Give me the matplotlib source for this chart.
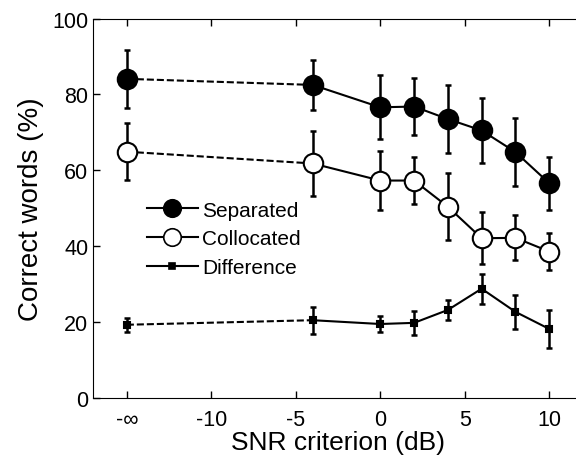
"""Correct words vs SNR criterion, separated / collocated / difference."""
import matplotlib
matplotlib.use("Agg")
import matplotlib.pyplot as plt
from matplotlib.lines import Line2D

plt.rcParams["font.family"] = ["Liberation Sans", "DejaVu Sans"]

# -15 stands in for the -inf condition
snr = [-15, -4, 0, 2, 4, 6, 8, 10]
separated = [84.1, 82.5, 76.6, 76.8, 73.5, 70.5, 64.8, 56.6]
separated_err = [7.7, 6.5, 8.4, 7.4, 8.9, 8.5, 9.0, 7.0]
collocated = [64.9, 61.8, 57.3, 57.3, 50.4, 42.1, 42.2, 38.6]
collocated_err = [7.5, 8.5, 7.8, 6.2, 8.8, 6.8, 5.9, 4.9]
difference = [19.3, 20.5, 19.5, 19.8, 23.2, 28.8, 22.7, 18.2]
difference_err = [1.8, 3.6, 2.2, 3.2, 2.6, 4.0, 4.5, 5.0]
xticks = [-15, -10, -5, 0, 5, 10]
xticklabels = ["-∞", "-10", "-5", "0", "5", "10"]

series = [
    ("Separated", separated, separated_err, dict(marker="o", ms=14, mfc="black")),
    ("Collocated", collocated, collocated_err, dict(marker="o", ms=14, mfc="white")),
    ("Difference", difference, difference_err, dict(marker="s", ms=4.5, mfc="black")),
]

fig = plt.figure(figsize=(5.76, 4.6), dpi=100)
ax = fig.add_axes([0.1615, 0.1326, 0.8507, 0.825])

handles = []
for name, y, err, style in series:
    ax.plot(snr[:2], y[:2], color="black", lw=1.5, ls=(0, (3.4, 1.4)), zorder=2)
    ax.plot(snr[1:], y[1:], color="black", lw=1.5, zorder=2)
    ax.errorbar(snr, y, yerr=err, fmt="none", ecolor="black", elinewidth=1.8,
                capsize=2.5, capthick=1.8, zorder=3)
    ax.plot(snr, y, ls="none", color="black", mec="black", mew=1.5, zorder=4, **style)
    legend_style = dict(style, ms=style["ms"] * (0.9 if style["marker"] == "o" else 1))
    handles.append(Line2D([], [], color="black", lw=1.5, mec="black", mew=1.2, **legend_style))

ax.set_xlim(-17, 12)
ax.set_ylim(0, 100)
ax.set_xticks(xticks)
ax.set_xticklabels(xticklabels)
ax.set_yticks(range(0, 101, 20))
ax.tick_params(direction="in", length=5, width=1, labelsize=15.5, top=True, right=False)
ax.tick_params(axis="x", pad=8)
ax.set_xlabel("SNR criterion (dB)", fontsize=19, labelpad=0)
ax.set_ylabel("Correct words (%)", fontsize=20, labelpad=6)
ax.spines["right"].set_visible(False)

ax.legend(handles, [s[0] for s in series], loc="upper left", bbox_to_anchor=(0.11, 0.52),
          frameon=False, fontsize=15, handlelength=2.45, handletextpad=0.2, labelspacing=0.47,
          borderaxespad=0, borderpad=0)

fig.savefig("out.png", dpi=100)
